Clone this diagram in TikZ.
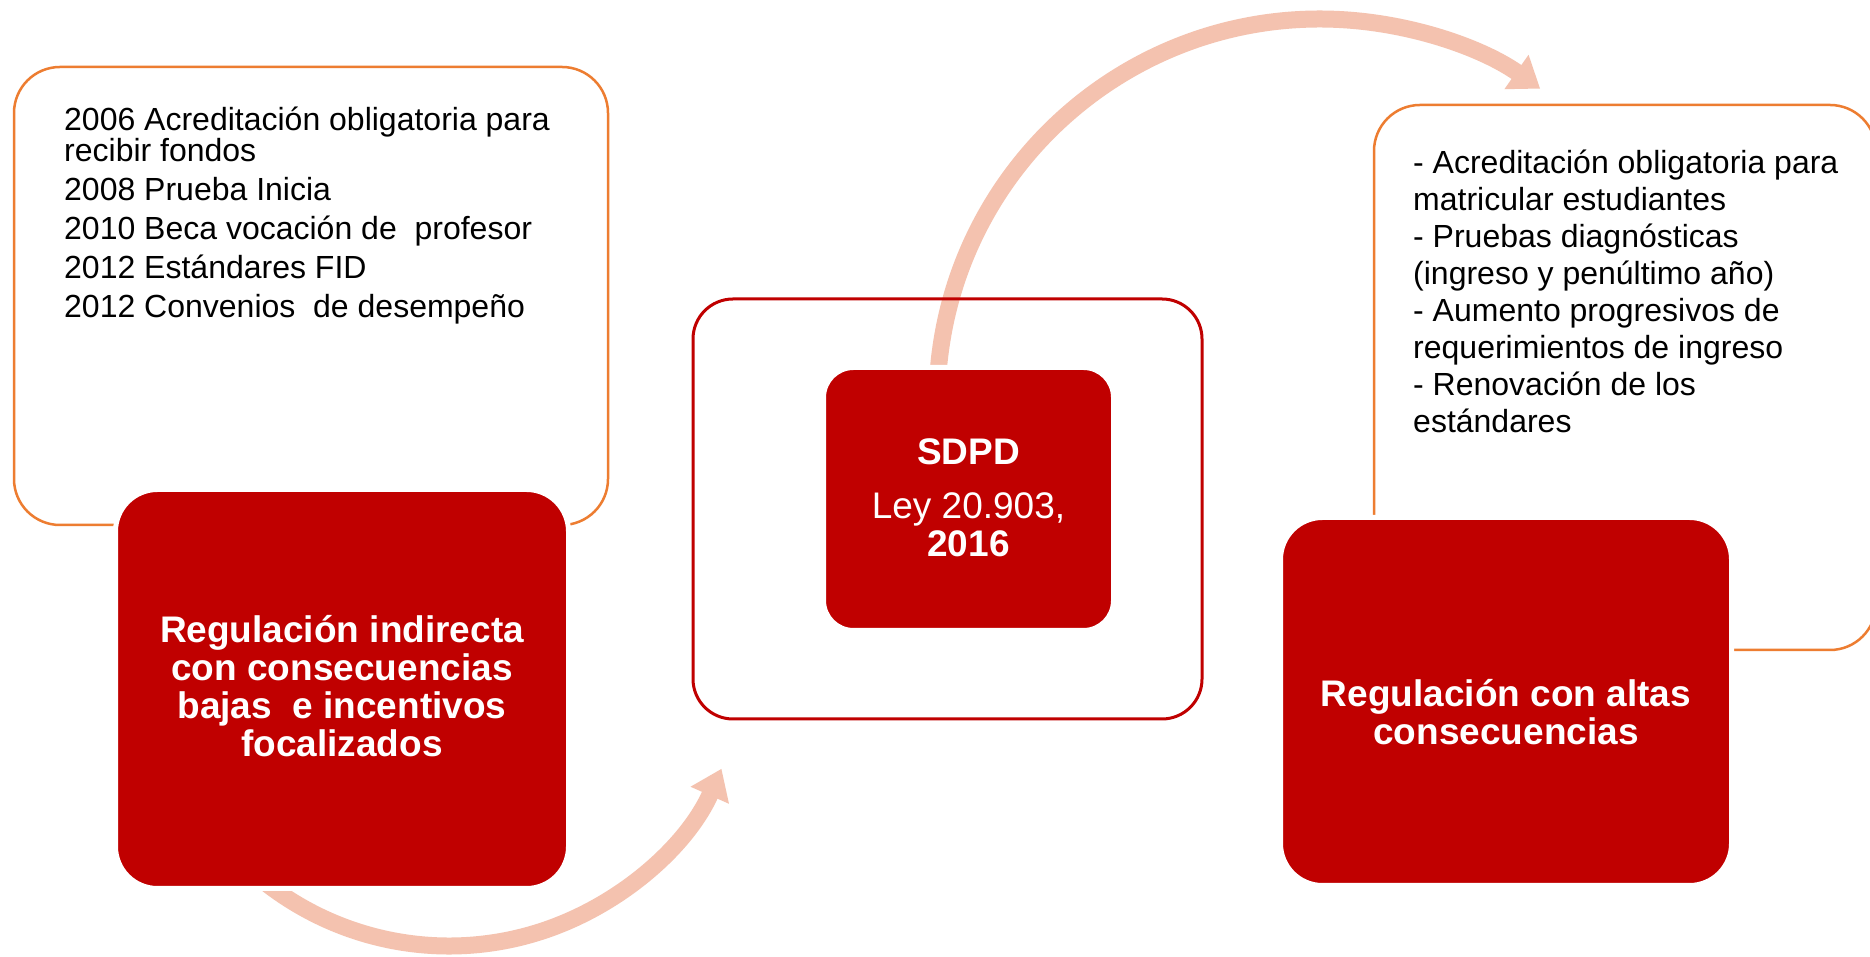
\documentclass[tikz,border=0pt]{standalone}
\usepackage{fontspec}
\setmainfont{Liberation Sans}
\usetikzlibrary{arrows.meta}
\definecolor{fred}{HTML}{C00000}
\definecolor{forange}{HTML}{ED7D31}
\definecolor{farrow}{HTML}{F4C2AF}
\begin{document}
\begin{tikzpicture}[x=1pt,y=1pt,
  obox/.style={draw=forange, line width=2.5pt, rounded corners=46pt, fill=white, inner sep=0pt},
  routline/.style={draw=fred, line width=3pt, rounded corners=40pt, inner sep=0pt},
  redbox/.style={fill=fred, draw=white, line width=5pt, rounded corners=42pt, inner sep=0pt},
  cyc/.style={draw=farrow, line width=17pt, -{Triangle[length=29pt,width=40pt]}},
  btext/.style={anchor=base west, inner sep=0pt, text=black},
  wtext/.style={anchor=base, inner sep=0pt, text=white}]
\useasboundingbox (0,0) rectangle (1870,957);
\clip (0,0) rectangle (1870,957);
\fill[white] (0,0) rectangle (1870,957);

% outer orange boxes
\node[obox, minimum width=594pt, minimum height=458pt] (lorange) at (311,661) {};
\node[obox, minimum width=502pt, minimum height=545pt] (rorange) at (1625,579.5) {};

% cycle arrows
\coordinate (a1s) at (257.5,80.7);
\draw[cyc] (a1s) arc[start angle=-130, end angle=-23.9, radius=298];
\coordinate (a2s) at (937.9,581.7);
\draw[cyc] (a2s) arc[start angle=176, end angle=54.9, radius=383];

% middle outlined box
\node[routline, minimum width=509pt, minimum height=420pt] (mout) at (947.5,448) {};

% red boxes
\node[redbox, minimum width=453pt, minimum height=399pt] (lred) at (342,268) {};
\node[redbox, rounded corners=30pt, minimum width=290pt, minimum height=263pt] (mred) at (968.5,458) {};
\node[redbox, minimum width=451pt, minimum height=368pt] (rred) at (1506,255.5) {};

% texts
\node[btext] (ltxt) at (64,826) {\parbox[t]{540pt}{\raggedright\fontsize{32}{31}\selectfont
2006 Acreditación obligatoria para\\recibir fondos\\[8pt]2008 Prueba Inicia\\[8pt]2010 Beca vocación de\ \ profesor\\[8pt]2012 Estándares FID\\[8pt]2012 Convenios\ \ de desempeño}};

\node[btext] (rtxt) at (1413,783) {\parbox[t]{450pt}{\raggedright\fontsize{32}{37}\selectfont
- Acreditación obligatoria para\\matricular estudiantes\\- Pruebas diagnósticas\\(ingreso y penúltimo año)\\- Aumento progresivos de\\requerimientos de ingreso\\- Renovación de los\\estándares}};

\node[wtext] (lrtxt) at (342,314) {\parbox[t]{440pt}{\centering\bfseries\fontsize{37}{38}\selectfont
Regulación indirecta\\con consecuencias\\bajas\ \ e incentivos\\focalizados}};

\node[wtext] (mtxt) at (968.5,492) {\parbox[t]{280pt}{\centering\fontsize{37}{38}\selectfont
\textbf{SDPD}\\[16pt]Ley 20.903,\\\textbf{2016}}};

\node[wtext] (rrtxt) at (1506,250) {\parbox[t]{440pt}{\centering\bfseries\fontsize{37}{38}\selectfont
Regulación con altas\\consecuencias}};
\end{tikzpicture}
\end{document}
